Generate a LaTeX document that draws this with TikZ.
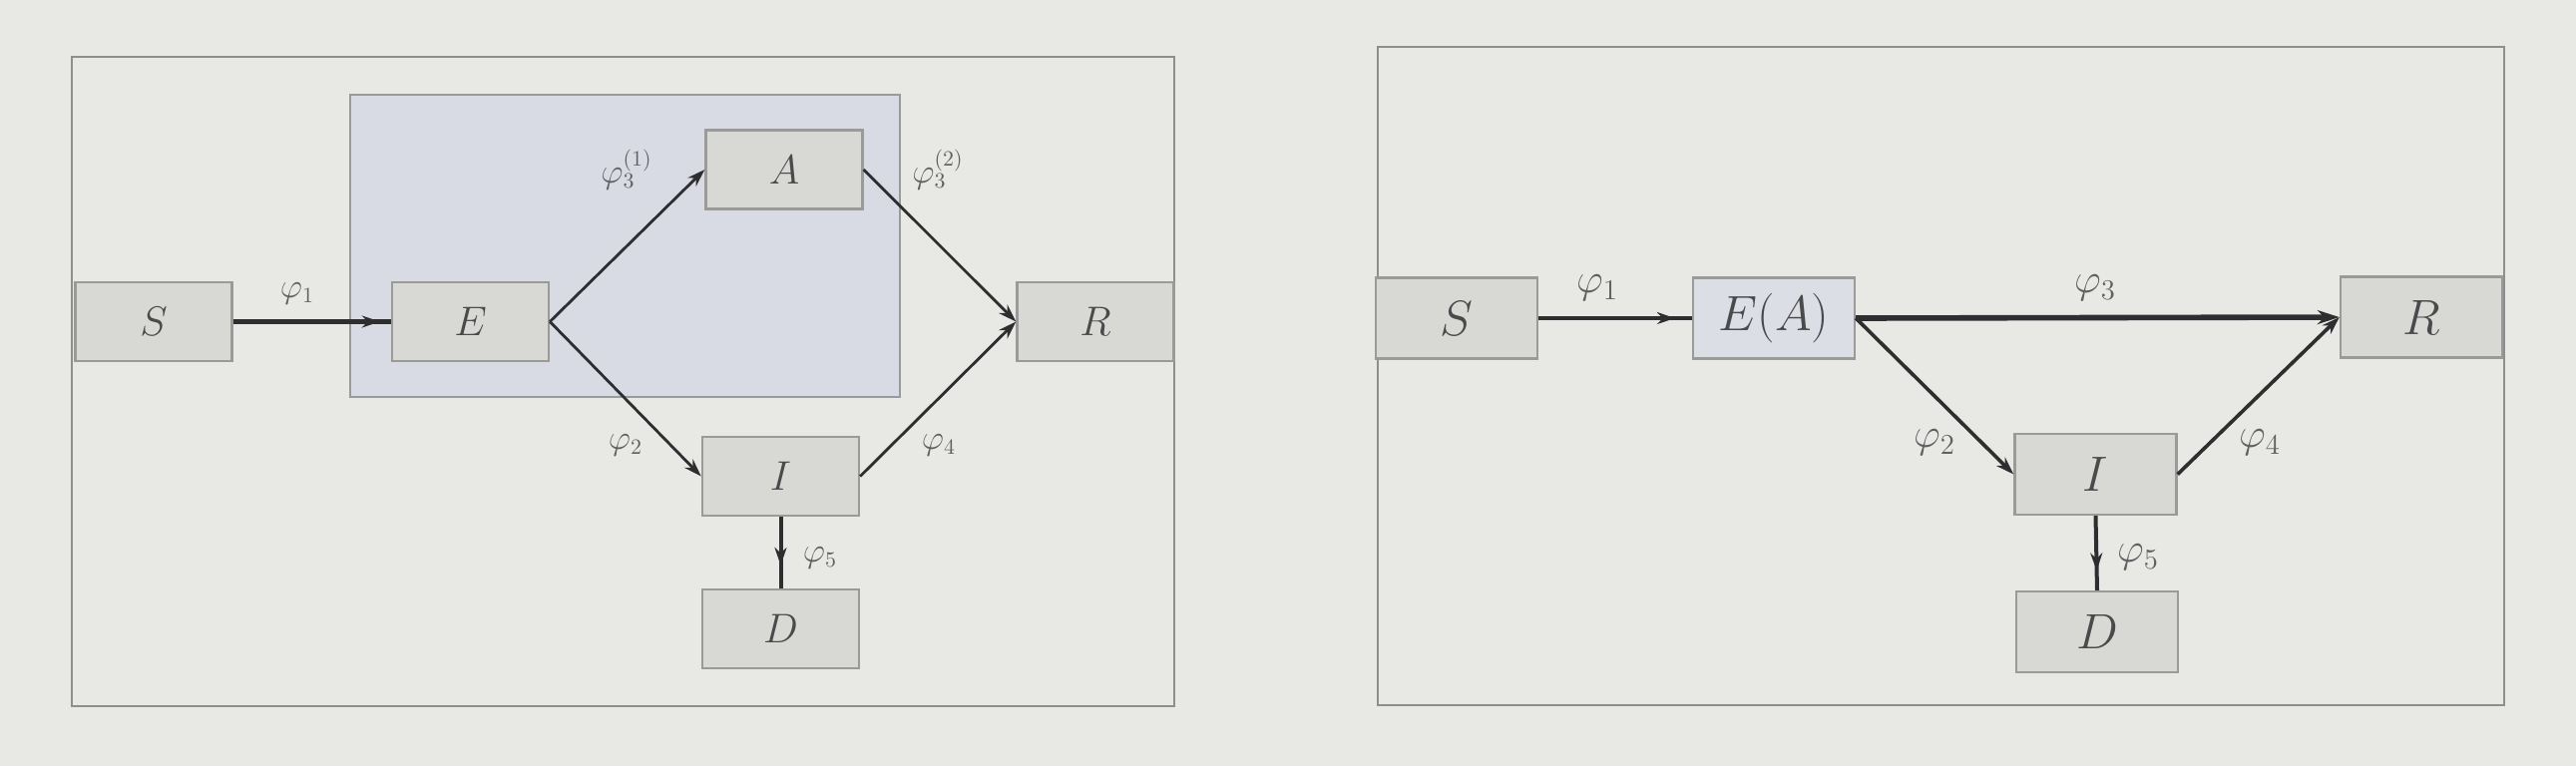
\documentclass[tikz,border=0pt]{standalone}
\usetikzlibrary{arrows.meta,decorations.markings}
\definecolor{bgc}{HTML}{E8E9E5}
\definecolor{framec}{HTML}{8E8E8E}
\definecolor{boxfill}{HTML}{D8D8D4}
\definecolor{boxline}{HTML}{9A9A98}
\definecolor{bluefill}{HTML}{D8DBE4}
\definecolor{eafill}{HTML}{DCDEE5}
\definecolor{inkc}{HTML}{2E2E30}
\definecolor{txtc}{HTML}{4A4A4C}
\definecolor{lblc}{HTML}{606062}
\begin{document}
\begin{tikzpicture}[x=0.5pt,y=-0.5pt,
  boxL/.style={draw=boxline,line width=1.2pt,fill=boxfill,inner sep=0pt,
    minimum width=78.5pt,minimum height=39.5pt,text=txtc,font=\fontsize{21}{25}\selectfont},
  boxR/.style={draw=boxline,line width=1.2pt,fill=boxfill,inner sep=0pt,
    minimum width=81pt,minimum height=40.5pt,text=txtc,font=\fontsize{26}{30}\selectfont},
  lblL/.style={text=lblc,inner sep=0pt,font=\fontsize{16}{19}\selectfont},
  lblR/.style={text=lblc,inner sep=0pt,font=\fontsize{20}{23}\selectfont},
  flow/.style={draw=inkc,line width=1.4pt,-{Stealth[length=9pt,width=6pt]}},
  tipat/.style={draw=inkc,postaction={decorate},decoration={markings,
    mark=at position #1 with {\arrow{Stealth[length=9pt,width=6pt]}}}},
  panel/.style={draw=framec,line width=1.1pt}
]
\fill[bgc] (0,0) rectangle (2582,768);
\useasboundingbox (0,0) rectangle (2582,768);
% ---------- left panel ----------
\node[panel,minimum width=552.5pt,minimum height=325.5pt,inner sep=0pt] (frameL) at (624.5,382.5) {};
\node[draw=boxline,line width=1.1pt,fill=bluefill,minimum width=275.5pt,minimum height=151.5pt,inner sep=0pt] (blueL) at (626.5,246.5) {};
\node[boxL] (S1) at (154,322.5) {$S$};
\node[boxL] (E1) at (471.5,322.5) {$E$};
\node[boxL] (A1) at (786,170) {$A$};
\node[boxL] (R1) at (1098,322.5) {$R$};
\node[boxL] (I1) at (782.5,477.5) {$I$};
\node[boxL] (D1) at (782.5,630.5) {$D$};
\draw[tipat=0.93,line width=2.2pt] (S1.east) -- (E1.west);
\draw[flow] (E1.east) -- (A1.west);
\draw[flow] (A1.east) -- (R1.west);
\draw[flow] (E1.east) -- (I1.west);
\draw[flow] (I1.east) -- (R1.west);
\draw[tipat=0.68,line width=2pt] (I1.south) -- (D1.north);
\node[lblL] (l1) at (298,294) {$\varphi_1$};
\node[lblL] (l31) at (628,170) {$\varphi_3^{(1)}$};
\node[lblL] (l32) at (940,170) {$\varphi_3^{(2)}$};
\node[lblL] (l2) at (627,446) {$\varphi_2$};
\node[lblL] (l4) at (941,446) {$\varphi_4$};
\node[lblL] (l5) at (822,559) {$\varphi_5$};
% ---------- right panel ----------
\node[panel,minimum width=564.5pt,minimum height=330pt,inner sep=0pt] (frameR) at (1945.5,377) {};
\node[boxR] (S2) at (1460,319) {$S$};
\node[boxR,fill=eafill] (E2) at (1778,319) {$E(A)$};
\node[boxR] (R2) at (2427,318) {$R$};
\node[boxR] (I2) at (2100.5,475.5) {$I$};
\node[boxR] (D2) at (2102,633.5) {$D$};
\draw[tipat=0.89,line width=2.2pt] (S2.east) -- (E2.west);
\draw[flow,line width=2.8pt,-{Stealth[length=11pt,width=7pt]}] (E2.east) -- (R2.west);
\draw[flow,line width=1.8pt] (E2.east) -- (I2.west);
\draw[flow,line width=1.8pt] (I2.east) -- (R2.west);
\draw[tipat=0.74,line width=2pt] (I2.south) -- (D2.north);
\node[lblR] (m1) at (1601,289) {$\varphi_1$};
\node[lblR] (m3) at (2100,289) {$\varphi_3$};
\node[lblR] (m2) at (1939,444) {$\varphi_2$};
\node[lblR] (m4) at (2265,444) {$\varphi_4$};
\node[lblR] (m5) at (2143,559) {$\varphi_5$};
\end{tikzpicture}
\end{document}
